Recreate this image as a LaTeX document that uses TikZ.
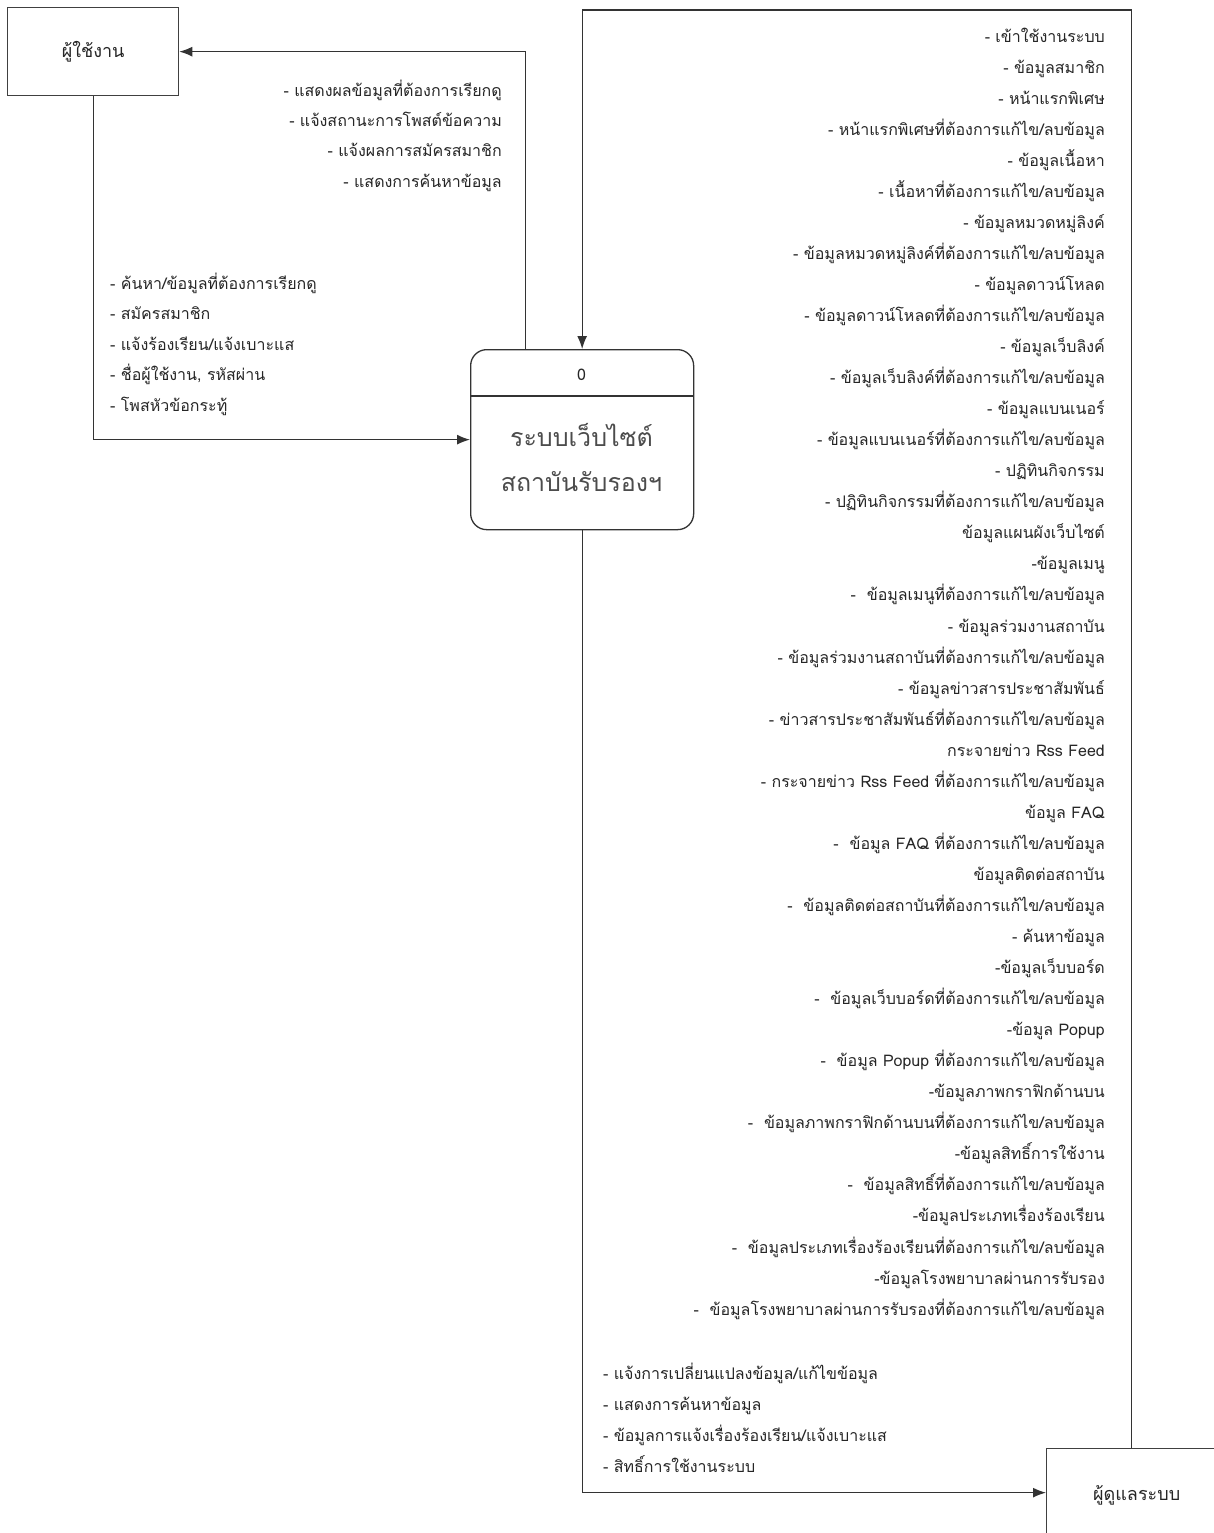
\documentclass[tikz,border=0pt]{standalone}
\usepackage{fontspec}
\newfontfamily\thai[Script=Thai]{Loma}
\usetikzlibrary{arrows.meta}
\tikzset{
  conn/.style={draw=black!80, line width=1.3pt},
  arr/.style={conn, -{Latex[length=13pt,width=10pt]}},
  entity/.style={draw=black!75, line width=1.3pt, fill=white, inner sep=0pt,
    font=\thai\fontsize{18}{22}\selectfont, text=black!85},
  procbox/.style={draw=black!80, line width=1.3pt, fill=white, rounded corners=16pt, inner sep=0pt},
  lbl/.style={inner sep=0pt, text=black!85},
}
\begin{document}
\begin{tikzpicture}[x=1pt,y=-1pt]
\useasboundingbox[fill=white] (0,0) rectangle (1213,1533);

% nodes
\node[entity, anchor=north west, minimum width=171pt, minimum height=88pt] (u) at (7,7) {ผู้ใช้งาน};
\node[procbox, anchor=north west, minimum width=223pt, minimum height=180pt] (p) at (470,349) {};
\node[lbl, font=\thai\fontsize{16}{20}\selectfont] (pn) at (581.5,375) {0};
\node[lbl, align=center, font=\thai\fontsize{25}{45}\selectfont, text=black!70] (pt) at (581.5,458) {ระบบเว็บไซต์\\สถาบันรับรองฯ};
\coordinate (dl) at (470,396);
\coordinate (dr) at (693,396);
\draw[conn] (dl) -- (dr);
\node[entity, anchor=north west, minimum width=170pt, minimum height=88pt, text depth=0pt] (a) at (1046,1448) {\hspace*{10pt}ผู้ดูแลระบบ};
\coordinate (top) at (0,10);

% connectors
\draw[arr] ([xshift=-56.5pt]p.north) |- (u.east);
\draw[arr] (u.south) |- (p.west);
\draw[arr] (a.north) -- (a.north |- top) -| (p.north);
\draw[arr] (p.south) |- (a.west);

% labels
\node[lbl, align=right, anchor=east, font=\thai\fontsize{16}{30.3}\selectfont] (tl) at (502,135.5) {%
- แสดงผลข้อมูลที่ต้องการเรียกดู\\
- แจ้งสถานะการโพสต์ข้อความ\\
- แจ้งผลการสมัครสมาชิก\\
- แสดงการค้นหาข้อมูล};

\node[lbl, align=left, anchor=west, font=\thai\fontsize{16}{30.5}\selectfont] (ll) at (110,344) {%
- ค้นหา/ข้อมูลที่ต้องการเรียกดู\\
- สมัครสมาชิก\\
- แจ้งร้องเรียน/แจ้งเบาะแส\\
- ชื่อผู้ใช้งาน, รหัสผ่าน\\
- โพสหัวข้อกระทู้};

\node[lbl, align=left, anchor=west, font=\thai\fontsize{16}{31}\selectfont] (bl) at (603,1417.5) {%
- แจ้งการเปลี่ยนแปลงข้อมูล/แก้ไขข้อมูล\\
- แสดงการค้นหาข้อมูล\\
- ข้อมูลการแจ้งเรื่องร้องเรียน/แจ้งเบาะแส\\
- สิทธิ์การใช้งานระบบ};

\node[lbl, align=right, anchor=east, font=\thai\fontsize{16}{31.05}\selectfont] (rl) at (1105,673.5) {%
- เข้าใช้งานระบบ\\
- ข้อมูลสมาชิก\\
- หน้าแรกพิเศษ\\
- หน้าแรกพิเศษที่ต้องการแก้ไข/ลบข้อมูล\\
- ข้อมูลเนื้อหา\\
- เนื้อหาที่ต้องการแก้ไข/ลบข้อมูล\\
- ข้อมูลหมวดหมู่ลิงค์\\
- ข้อมูลหมวดหมู่ลิงค์ที่ต้องการแก้ไข/ลบข้อมูล\\
- ข้อมูลดาวน์โหลด\\
- ข้อมูลดาวน์โหลดที่ต้องการแก้ไข/ลบข้อมูล\\
- ข้อมูลเว็บลิงค์\\
- ข้อมูลเว็บลิงค์ที่ต้องการแก้ไข/ลบข้อมูล\\
- ข้อมูลแบนเนอร์\\
- ข้อมูลแบนเนอร์ที่ต้องการแก้ไข/ลบข้อมูล\\
- ปฏิทินกิจกรรม\\
- ปฏิทินกิจกรรมที่ต้องการแก้ไข/ลบข้อมูล\\
ข้อมูลแผนผังเว็บไซต์\\
-ข้อมูลเมนู\\
-\ \ ข้อมูลเมนูที่ต้องการแก้ไข/ลบข้อมูล\\
- ข้อมูลร่วมงานสถาบัน\\
- ข้อมูลร่วมงานสถาบันที่ต้องการแก้ไข/ลบข้อมูล\\
- ข้อมูลข่าวสารประชาสัมพันธ์\\
- ข่าวสารประชาสัมพันธ์ที่ต้องการแก้ไข/ลบข้อมูล\\
กระจายข่าว Rss Feed\\
- กระจายข่าว Rss Feed ที่ต้องการแก้ไข/ลบข้อมูล\\
ข้อมูล FAQ\\
-\ \ ข้อมูล FAQ ที่ต้องการแก้ไข/ลบข้อมูล\\
ข้อมูลติดต่อสถาบัน\\
-\ \ ข้อมูลติดต่อสถาบันที่ต้องการแก้ไข/ลบข้อมูล\\
- ค้นหาข้อมูล\\
-ข้อมูลเว็บบอร์ด\\
-\ \ ข้อมูลเว็บบอร์ดที่ต้องการแก้ไข/ลบข้อมูล\\
-ข้อมูล Popup\\
-\ \ ข้อมูล Popup ที่ต้องการแก้ไข/ลบข้อมูล\\
-ข้อมูลภาพกราฟิกด้านบน\\
-\ \ ข้อมูลภาพกราฟิกด้านบนที่ต้องการแก้ไข/ลบข้อมูล\\
-ข้อมูลสิทธิ์การใช้งาน\\
-\ \ ข้อมูลสิทธิ์ที่ต้องการแก้ไข/ลบข้อมูล\\
-ข้อมูลประเภทเรื่องร้องเรียน\\
-\ \ ข้อมูลประเภทเรื่องร้องเรียนที่ต้องการแก้ไข/ลบข้อมูล\\
-ข้อมูลโรงพยาบาลผ่านการรับรอง\\
-\ \ ข้อมูลโรงพยาบาลผ่านการรับรองที่ต้องการแก้ไข/ลบข้อมูล};
\end{tikzpicture}
\end{document}
